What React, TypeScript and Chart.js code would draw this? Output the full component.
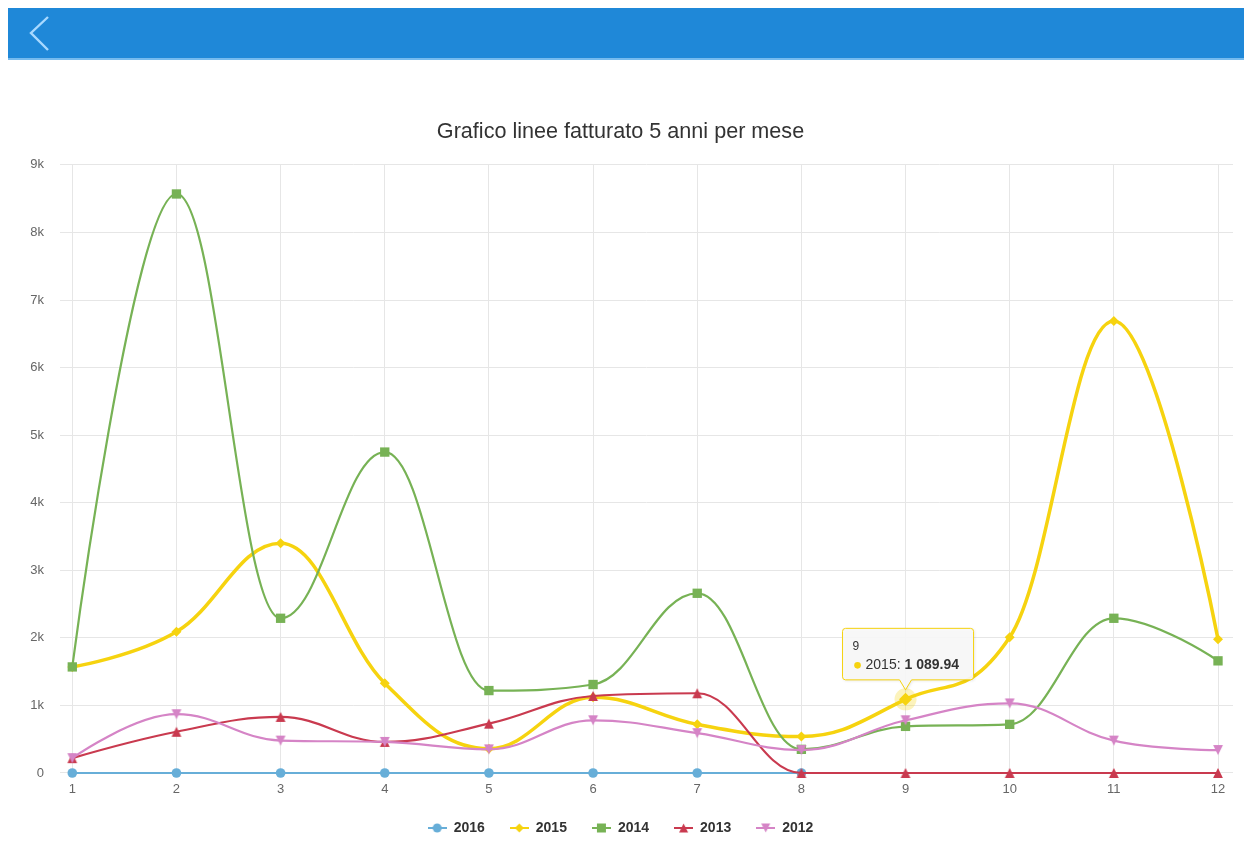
import React, { useEffect, useRef } from 'react';
import { Chart, registerables } from 'chart.js';

Chart.register(...registerables);

const FONT = '"Liberation Sans", Arial, Helvetica, sans-serif';

const months = [1, 2, 3, 4, 5, 6, 7, 8, 9, 10, 11, 12];
const yTickValues = [0, 1000, 2000, 3000, 4000, 5000, 6000, 7000, 8000, 9000];
const seriesNames = ['2016', '2015', '2014', '2013', '2012'];
const seriesColors = ['#67aed8', '#f6d30f', '#77b255', '#c93a4f', '#d584c6'];

const values2016 = [0, 0, 0, 0, 0, 0, 0, 0, null, null, null, null];
const values2015 = [1570, 2090, 3400, 1330, 360, 1120, 720, 540, 1089.94, 2010, 6690, 1980];
const values2014 = [1570, 8570, 2290, 4750, 1220, 1310, 2660, 350, 690, 720, 2290, 1660];
const values2013 = [220, 610, 830, 460, 730, 1140, 1180, 0, 0, 0, 0, 0];
const values2012 = [220, 870, 480, 460, 350, 780, 590, 340, 780, 1030, 480, 340];

const tooltipSeries = 1;
const tooltipIndex = 8;

type Shape = 'circle' | 'diamond' | 'square' | 'triangle' | 'triangleDown';
const shapes: Shape[] = ['circle', 'diamond', 'square', 'triangle', 'triangleDown'];

function drawShape(ctx: CanvasRenderingContext2D, shape: Shape, x: number, y: number, r: number) {
  ctx.beginPath();
  if (shape === 'circle') {
    ctx.arc(x, y, r, 0, Math.PI * 2);
  } else if (shape === 'diamond') {
    ctx.moveTo(x, y - r);
    ctx.lineTo(x + r, y);
    ctx.lineTo(x, y + r);
    ctx.lineTo(x - r, y);
    ctx.closePath();
  } else if (shape === 'square') {
    ctx.rect(x - r, y - r, 2 * r, 2 * r);
  } else if (shape === 'triangle') {
    ctx.moveTo(x, y - r);
    ctx.lineTo(x + r, y + r);
    ctx.lineTo(x - r, y + r);
    ctx.closePath();
  } else {
    ctx.moveTo(x - r, y - r);
    ctx.lineTo(x + r, y - r);
    ctx.lineTo(x, y + r);
    ctx.closePath();
  }
  ctx.fill();
}

function makeIcon(color: string, shape: Shape): HTMLCanvasElement {
  const c = document.createElement('canvas');
  c.width = 19;
  c.height = 14;
  const ctx = c.getContext('2d')!;
  ctx.strokeStyle = color;
  ctx.lineWidth = 2;
  ctx.beginPath();
  ctx.moveTo(0, 7);
  ctx.lineTo(19, 7);
  ctx.stroke();
  ctx.fillStyle = color;
  drawShape(ctx, shape, 9.5, 7, 4.5);
  return c;
}

function makeMarker(color: string, shape: Shape, r: number): HTMLCanvasElement {
  const size = Math.ceil(2 * r + 2);
  const c = document.createElement('canvas');
  c.width = size;
  c.height = size;
  const ctx = c.getContext('2d')!;
  ctx.fillStyle = color;
  drawShape(ctx, shape, size / 2, size / 2, r);
  return c;
}

const toPoints = (arr: (number | null)[]) => months.map((m, i) => ({ x: m, y: arr[i] }));

// Spline control points computed the way the original charting tool does
// (smoothing 1.5, control points clamped so curves never overshoot neighbours).
const splinePlugin = {
  id: 'hcSpline',
  beforeDatasetsDraw(chart: any) {
    chart.data.datasets.forEach((_: any, di: number) => {
      const meta = chart.getDatasetMeta(di);
      const pts = meta.data;
      const n = pts.length;
      for (let i = 0; i < n; i++) {
        const p = pts[i];
        if (p.skip) continue;
        const prev = i > 0 && !pts[i - 1].skip ? pts[i - 1] : null;
        const next = i < n - 1 && !pts[i + 1].skip ? pts[i + 1] : null;
        let lx = p.x, ly = p.y, rx = p.x, ry = p.y;
        if (prev && next) {
          const s = 1.5, d = s + 1;
          lx = (s * p.x + prev.x) / d;
          ly = (s * p.y + prev.y) / d;
          rx = (s * p.x + next.x) / d;
          ry = (s * p.y + next.y) / d;
          if (rx !== lx) {
            const corr = ((ry - ly) * (rx - p.x)) / (rx - lx) + p.y - ry;
            ly += corr;
            ry += corr;
            if (ly > prev.y && ly > p.y) {
              ly = Math.max(prev.y, p.y);
              ry = 2 * p.y - ly;
            } else if (ly < prev.y && ly < p.y) {
              ly = Math.min(prev.y, p.y);
              ry = 2 * p.y - ly;
            }
            if (ry > next.y && ry > p.y) {
              ry = Math.max(next.y, p.y);
              ly = 2 * p.y - ry;
            } else if (ry < next.y && ry < p.y) {
              ry = Math.min(next.y, p.y);
              ly = 2 * p.y - ry;
            }
          }
        }
        p.cp1x = lx;
        p.cp1y = ly;
        p.cp2x = rx;
        p.cp2y = ry;
      }
      if (meta.dataset) {
        meta.dataset._pointsUpdated = true;
        meta.dataset._path = undefined;
      }
    });
  },
};

const fixedTooltip = {
  id: 'fixedTooltip',
  afterDraw(chart: any) {
    const meta = chart.getDatasetMeta(tooltipSeries);
    const el = meta.data[tooltipIndex];
    if (!el) return;
    const x = el.x;
    const y = el.y;
    const ctx: CanvasRenderingContext2D = chart.ctx;
    const color = seriesColors[tooltipSeries];
    const values = [values2016, values2015, values2014, values2013, values2012][tooltipSeries];
    const v = values[tooltipIndex] as number;
    ctx.save();
    ctx.fillStyle = 'rgba(246,211,15,0.28)';
    ctx.beginPath();
    ctx.arc(x, y, 11, 0, Math.PI * 2);
    ctx.fill();
    ctx.fillStyle = color;
    drawShape(ctx, 'diamond', x, y, 6.5);

    const left = x - 63;
    const right = x + 68;
    const top = y - 71;
    const bottom = y - 19.5;
    const tipY = y - 9.5;
    const r = 3;
    ctx.beginPath();
    ctx.moveTo(left + r, top);
    ctx.lineTo(right - r, top);
    ctx.quadraticCurveTo(right, top, right, top + r);
    ctx.lineTo(right, bottom - r);
    ctx.quadraticCurveTo(right, bottom, right - r, bottom);
    ctx.lineTo(x + 6, bottom);
    ctx.lineTo(x, tipY);
    ctx.lineTo(x - 6, bottom);
    ctx.lineTo(left + r, bottom);
    ctx.quadraticCurveTo(left, bottom, left, bottom - r);
    ctx.lineTo(left, top + r);
    ctx.quadraticCurveTo(left, top, left + r, top);
    ctx.closePath();
    ctx.shadowColor = 'rgba(0,0,0,0.12)';
    ctx.shadowOffsetX = 1;
    ctx.shadowOffsetY = 1;
    ctx.shadowBlur = 3;
    ctx.fillStyle = 'rgba(249,249,249,0.92)';
    ctx.fill();
    ctx.shadowColor = 'transparent';
    ctx.strokeStyle = color;
    ctx.lineWidth = 1;
    ctx.stroke();

    ctx.textBaseline = 'middle';
    ctx.textAlign = 'left';
    ctx.fillStyle = '#333333';
    ctx.font = `12px ${FONT}`;
    ctx.fillText(String(months[tooltipIndex]), left + 10, top + 18.5);

    ctx.fillStyle = color;
    ctx.beginPath();
    ctx.arc(left + 15, top + 37, 3.3, 0, Math.PI * 2);
    ctx.fill();

    const [intPart, dec] = v.toFixed(2).split('.');
    const formatted = `${intPart.replace(/\B(?=(\d{3})+(?!\d))/g, ' ')}.${dec}`;
    const label = `${seriesNames[tooltipSeries]}: `;
    ctx.fillStyle = '#333333';
    ctx.font = `14px ${FONT}`;
    ctx.fillText(label, left + 23, top + 37);
    const w = ctx.measureText(label).width;
    ctx.font = `bold 14px ${FONT}`;
    ctx.fillText(formatted, left + 23 + w, top + 37);
    ctx.restore();
  },
};

export default function App() {
  const canvasRef = useRef<HTMLCanvasElement | null>(null);

  useEffect(() => {
    const canvas = canvasRef.current;
    if (!canvas) return;
    const icons = seriesColors.map((c, i) => makeIcon(c, shapes[i]));
    const allValues = [values2016, values2015, values2014, values2013, values2012];
    const pointStyles: any[] = [
      'circle',
      'rectRot',
      'rect',
      makeMarker(seriesColors[3], 'triangle', 4.9),
      makeMarker(seriesColors[4], 'triangleDown', 4.9),
    ];
    const pointRadii = [4.8, 5, 6.6, 5, 5];
    const lineWidths = [2.2, 3.5, 2.2, 2.2, 2.2];

    const datasets = seriesNames.map((name, i) => ({
      label: name,
      data: toPoints(allValues[i]),
      borderColor: seriesColors[i],
      backgroundColor: seriesColors[i],
      pointBackgroundColor: seriesColors[i],
      pointBorderColor: seriesColors[i],
      pointBorderWidth: 0,
      pointStyle: pointStyles[i],
      pointRadius: pointRadii[i],
      borderWidth: lineWidths[i],
      tension: 0.4,
      fill: false,
      clip: false,
      order: seriesNames.length - i,
    }));

    const chart = new Chart(canvas, {
      type: 'line',
      data: { datasets: datasets as any },
      options: {
        animation: false,
        responsive: false,
        devicePixelRatio: 1,
        events: [],
        layout: { padding: { left: 0, right: 19, top: 0, bottom: 0 } },
        scales: {
          x: {
            type: 'linear',
            min: 0.882,
            max: 12.144,
            afterBuildTicks: (scale: any) => {
              scale.ticks = months.map((m) => ({ value: m }));
            },
            afterFit: (scale: any) => {
              scale.height = 23;
            },
            ticks: {
              autoSkip: false,
              maxRotation: 0,
              padding: 9,
              color: '#666666',
              font: { size: 13, family: FONT },
              callback: (v: any) => String(v),
            },
            grid: { color: '#e6e6e6', drawTicks: false, lineWidth: 1 },
            border: { display: false },
          },
          y: {
            type: 'linear',
            min: 0,
            max: 9000,
            afterBuildTicks: (scale: any) => {
              scale.ticks = yTickValues.map((v) => ({ value: v }));
            },
            afterFit: (scale: any) => {
              scale.width = 52;
            },
            ticks: {
              padding: 16,
              color: '#666666',
              font: { size: 13, family: FONT },
              callback: (v: any) => (v === 0 ? '0' : `${v / 1000}k`),
            },
            grid: { color: '#e6e6e6', drawTicks: false, lineWidth: 1 },
            border: { display: false },
          },
        },
        plugins: {
          title: {
            display: true,
            text: 'Grafico linee fatturato 5 anni per mese',
            color: '#333333',
            font: { size: 21.6, weight: 'normal', family: FONT },
            padding: { top: 39, bottom: 20 },
          },
          legend: {
            position: 'bottom',
            labels: {
              usePointStyle: true,
              pointStyleWidth: 19,
              padding: 25,
              color: '#333333',
              font: { size: 14, weight: 'bold', family: FONT },
              generateLabels: (ch: any) => {
                const items = (Chart.defaults.plugins.legend.labels as any).generateLabels(ch);
                items.sort((a: any, b: any) => a.datasetIndex - b.datasetIndex);
                return items.map((it: any) => ({ ...it, pointStyle: icons[it.datasetIndex], rotation: 0 }));
              },
            },
          },
          tooltip: { enabled: false },
        },
      },
      plugins: [splinePlugin, fixedTooltip],
    });
    return () => chart.destroy();
  }, []);

  return (
    <div style={{ position: 'relative', width: 1252, height: 841, overflow: 'hidden', background: '#ffffff' }}>
      <style>{'html,body{margin:0;padding:0;overflow:hidden;background:#fff;}'}</style>
      <div
        style={{
          position: 'absolute',
          left: 8,
          top: 8,
          width: 1236,
          height: 50,
          background: '#1f88d8',
          borderBottom: '2px solid #76bbee',
        }}
      >
        <svg width="60" height="50" style={{ position: 'absolute', left: 0, top: 0 }}>
          <polyline points="40,9 23,25 40,42" fill="none" stroke="#a8d9ff" strokeWidth="2.4" />
        </svg>
      </div>
      <canvas
        ref={canvasRef}
        width={1244}
        height={765}
        style={{ position: 'absolute', left: 8, top: 80, width: 1244, height: 765 }}
      />
    </div>
  );
}
